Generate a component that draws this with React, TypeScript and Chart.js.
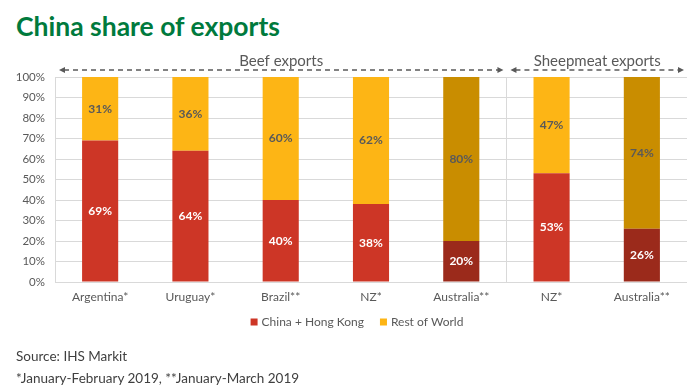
import React, { useEffect, useRef } from 'react';
import { Chart, registerables } from 'chart.js';

Chart.register(...registerables);

const categories = ['Argentina*', 'Uruguay*', 'Brazil**', 'NZ*', 'Australia**', 'NZ*', 'Australia**'];
const chinaShare = [69, 64, 40, 38, 20, 53, 26];
const restShare = [31, 36, 60, 62, 80, 47, 74];
const chinaColors = ['#CD3626', '#CD3626', '#CD3626', '#CD3626', '#9B2A1B', '#CD3626', '#9B2A1B'];
const restColors = ['#FDB515', '#FDB515', '#FDB515', '#FDB515', '#C98D00', '#FDB515', '#C98D00'];
const groupLabels = ['Beef exports', 'Sheepmeat exports'];
const groupStart = [0, 5];
const groupEnd = [4, 6];

const FONT = 'Lato, "Open Sans", sans-serif';
const GRAY = '#595959';

export default function App() {
  const ref = useRef<HTMLCanvasElement>(null);

  useEffect(() => {
    if (!ref.current) return;

    const barLabels = {
      id: 'barLabels',
      afterDatasetsDraw(chart: any) {
        const ctx = chart.ctx;
        ctx.save();
        ctx.font = `bold 12px ${FONT}`;
        ctx.textAlign = 'center';
        ctx.textBaseline = 'middle';
        chart.data.datasets.forEach((ds: any, di: number) => {
          const meta = chart.getDatasetMeta(di);
          meta.data.forEach((el: any, i: number) => {
            ctx.fillStyle = di === 0 ? '#FFFFFF' : GRAY;
            ctx.fillText(ds.data[i] + '%', el.x, (el.y + el.base) / 2);
          });
        });
        ctx.restore();
      },
    };

    const groupArrows = {
      id: 'groupArrows',
      afterDraw(chart: any) {
        const ctx = chart.ctx;
        const xs = chart.scales.x;
        const step = xs.getPixelForValue(1) - xs.getPixelForValue(0);
        const yLine = chart.chartArea.top - 7;
        ctx.save();
        groupLabels.forEach((lab, g) => {
          const left = xs.getPixelForValue(groupStart[g]) - step / 2 + 4;
          const right = xs.getPixelForValue(groupEnd[g]) + step / 2 - 3;
          ctx.strokeStyle = GRAY;
          ctx.fillStyle = GRAY;
          ctx.lineWidth = 1.5;
          ctx.setLineDash([5, 4]);
          ctx.beginPath();
          ctx.moveTo(left + 5, yLine);
          ctx.lineTo(right - 5, yLine);
          ctx.stroke();
          ctx.setLineDash([]);
          ctx.beginPath();
          ctx.moveTo(left, yLine);
          ctx.lineTo(left + 6, yLine - 3);
          ctx.lineTo(left + 6, yLine + 3);
          ctx.closePath();
          ctx.fill();
          ctx.beginPath();
          ctx.moveTo(right, yLine);
          ctx.lineTo(right - 6, yLine - 3);
          ctx.lineTo(right - 6, yLine + 3);
          ctx.closePath();
          ctx.fill();
          ctx.font = `15px ${FONT}`;
          ctx.textAlign = 'center';
          ctx.textBaseline = 'middle';
          ctx.fillText(lab, (left + right) / 2, yLine - 9);
        });
        ctx.restore();
      },
    };

    const customLegend = {
      id: 'customLegend',
      afterDraw(chart: any) {
        const ctx = chart.ctx;
        const box = 7;
        const gapText = 4;
        const gapItem = 16;
        ctx.save();
        ctx.font = `12px ${FONT}`;
        ctx.textBaseline = 'middle';
        ctx.textAlign = 'left';
        const items = chart.data.datasets.map((ds: any) => ({
          label: ds.label,
          color: Array.isArray(ds.backgroundColor) ? ds.backgroundColor[0] : ds.backgroundColor,
          w: ctx.measureText(ds.label).width,
        }));
        const total =
          items.reduce((s: number, it: any) => s + box + gapText + it.w, 0) + gapItem * (items.length - 1);
        const center = (chart.chartArea.left + chart.chartArea.right) / 2 - 14;
        const y = chart.chartArea.bottom + 40;
        let x = center - total / 2;
        items.forEach((it: any) => {
          ctx.fillStyle = it.color;
          ctx.fillRect(x, y - box / 2, box, box);
          x += box + gapText;
          ctx.fillStyle = GRAY;
          ctx.fillText(it.label, x, y);
          x += it.w + gapItem;
        });
        ctx.restore();
      },
    };

    const chart = new Chart(ref.current, {
      type: 'bar',
      data: {
        labels: categories,
        datasets: [
          {
            label: 'China + Hong Kong',
            data: chinaShare,
            backgroundColor: chinaColors,
            barPercentage: 0.8,
            categoryPercentage: 0.5,
          },
          {
            label: 'Rest of World',
            data: restShare,
            backgroundColor: restColors,
            barPercentage: 0.8,
            categoryPercentage: 0.5,
          },
        ],
      },
      options: {
        responsive: false,
        animation: false,
        layout: { padding: { left: 0, right: 13, top: 77, bottom: 84 } },
        scales: {
          x: {
            stacked: true,
            grid: {
              offset: true,
              drawTicks: false,
              color: (c: any) => (c.index === 0 || c.index === 5 ? '#D9D9D9' : 'rgba(0,0,0,0)'),
            },
            border: { display: false },
            ticks: { color: GRAY, font: { family: FONT, size: 12 }, padding: 8 },
            afterFit: (s: any) => {
              s.height = 24;
            },
          },
          y: {
            stacked: true,
            min: 0,
            max: 100,
            grid: { color: '#D9D9D9', drawTicks: false },
            border: { display: false },
            ticks: {
              stepSize: 10,
              color: GRAY,
              font: { family: FONT, size: 11.5 },
              padding: 10,
              callback: (v: any) => v + '%',
            },
            afterFit: (s: any) => {
              s.width = 55;
            },
          },
        },
        plugins: {
          legend: { display: false },
          tooltip: { enabled: false },
        },
      },
      plugins: [barLabels, groupArrows, customLegend],
    } as any);

    return () => chart.destroy();
  }, []);

  return (
    <div style={{ position: 'fixed', left: 0, top: 0, width: 700, height: 390, background: '#fff' }}>
      <div
        style={{
          position: 'absolute',
          left: 16,
          top: 10,
          fontFamily: FONT,
          fontWeight: 'bold',
          fontSize: 26.5,
          color: '#007A3D',
          whiteSpace: 'nowrap',
        }}
      >
        China share of exports
      </div>
      <canvas ref={ref} width={700} height={390} style={{ position: 'absolute', left: 0, top: 0 }} />
      <div
        style={{
          position: 'absolute',
          left: 16,
          top: 345,
          fontFamily: FONT,
          fontSize: 13.5,
          color: '#404040',
          lineHeight: '22px',
          whiteSpace: 'nowrap',
        }}
      >
        <div>Source: IHS Markit</div>
        <div>*January-February 2019, **January-March 2019</div>
      </div>
    </div>
  );
}
